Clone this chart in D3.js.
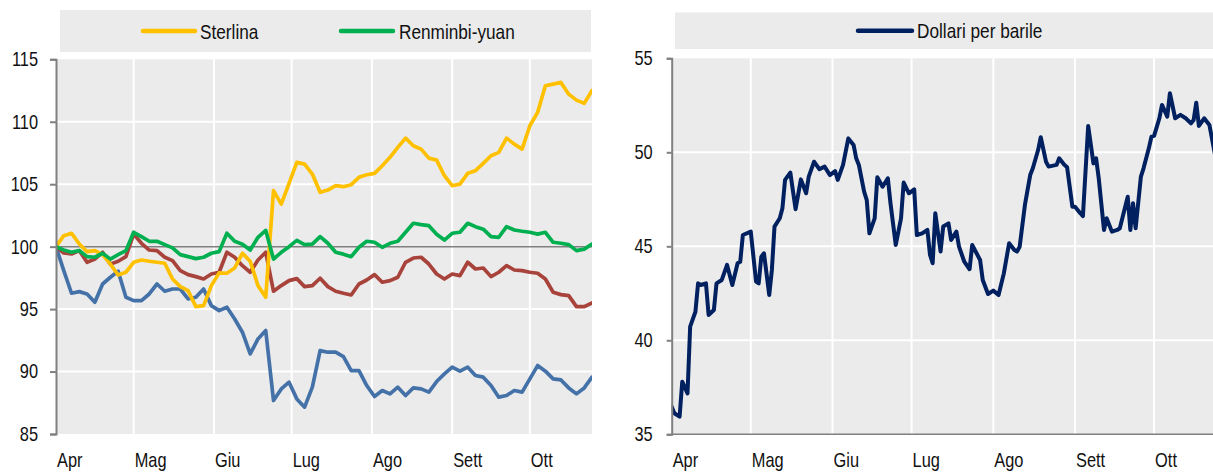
<!DOCTYPE html>
<html><head><meta charset="utf-8">
<script src="https://cdn.jsdelivr.net/npm/d3@7"></script>
<style>
body{margin:0;background:#fff}
svg{display:block}
text{font-family:"Liberation Sans",Arial,sans-serif;fill:#111}
</style>
</head><body>
<svg id="c" width="1213" height="473"></svg>
<script>
// ---------- DATA ----------
const monthLabels = ["Apr","Mag","Giu","Lug","Ago","Sett","Ott"];
const leftTicks = [85,90,95,100,105,110,115];
const rightTicks = [35,40,45,50,55];
const startDate = new Date(2016,3,1);
// left panel: readings every 3 days from 1 April (day offsets)
const leftDays = d3.range(0, 208, 3);
const sterlina = [100,100.88,101.07,100.21,99.6,99.68,99.36,98.6,97.73,97.95,
 98.75,98.93,98.83,98.75,98.67,97.41,96.8,96.48,95.2,95.28,
 96.88,97.9,97.87,98.29,99.47,98.83,96.88,95.95,104.48,103.41,
 105.07,106.75,106.61,105.81,104.35,104.53,104.88,104.8,104.96,105.55,
 105.76,105.87,106.48,107.15,107.95,108.69,108.08,107.81,107.09,106.93,
 105.68,104.88,105.01,105.87,106.08,106.67,107.28,107.55,108.69,108.21,
 107.81,109.68,110.75,112.88,113.01,113.15,112.21,111.73,111.47,112.5];
const renminbi = [100,99.73,99.55,99.68,99.2,99.15,99.47,99.0,99.36,99.68,
 101.15,100.8,100.43,100.43,100.16,99.9,99.36,99.2,99.04,99.15,
 99.47,99.6,101.07,100.43,100.2,99.73,100.75,101.3,99.0,99.55,
 100.0,100.5,100.16,100.2,100.8,100.27,99.55,99.4,99.2,99.95,
 100.43,100.35,99.95,100.27,100.43,101.15,101.87,101.76,101.68,101.0,
 100.53,101.07,101.15,101.87,101.6,101.4,100.8,100.75,101.6,101.33,
 101.23,101.15,101.0,101.15,100.35,100.27,100.16,99.68,99.8,100.2];
const dollaro = [100,99.49,99.41,99.68,98.75,99.0,99.55,98.6,98.83,99.2,
 101.0,100.27,99.73,99.68,99.15,98.88,98.08,97.76,97.6,97.41,
 97.81,97.95,99.55,99.15,98.48,97.95,98.93,99.55,96.43,96.88,
 97.28,97.44,96.8,96.88,97.47,96.8,96.43,96.27,96.13,97.01,
 97.33,97.76,97.15,97.28,97.55,98.75,99.09,99.15,98.61,97.81,
 97.41,97.81,97.68,98.75,98.21,98.29,97.6,97.95,98.48,98.13,
 98.08,97.95,97.87,97.41,96.35,96.16,96.08,95.2,95.2,95.49];
const yen = [100,98.08,96.27,96.4,96.21,95.55,97.01,97.55,98.03,95.95,
 95.68,95.68,96.21,97.01,96.43,96.61,96.61,95.81,95.95,96.61,
 95.28,94.88,95.15,94.21,93.15,91.41,92.61,93.28,87.68,88.61,
 89.15,87.81,87.15,88.75,91.68,91.55,91.55,91.2,90.08,90.08,
 88.88,88.0,88.48,88.21,88.75,88.08,88.69,88.61,88.35,89.2,
 89.81,90.35,90.03,90.35,89.68,89.55,88.88,87.95,88.08,88.48,
 88.35,89.41,90.48,90.03,89.41,89.33,88.69,88.21,88.69,89.55];
// right panel: oil price (day offsets from 1 April, dollars per barrel)
const oilDays = [0,1,3,4,6,7,9,10,11,13,14,16,17,19,21,23,25,26,27,30,
 32,33,34,35,37,38,39,41,42,43,45,47,49,51,52,54,56,58,60,62,
 63,65,67,69,70,71,73,74,75,77,78,80,82,83,85,87,88,90,92,93,
 95,97,98,99,100,102,103,105,106,108,109,111,113,114,117,118,120,122,124,126,
 128,130,131,132,134,136,137,139,140,142,143,146,147,149,150,152,153,155,156,158,
 160,161,162,164,165,167,169,170,173,174,175,176,178,179,181,182,183,185,186,188,
 189,191,193,195,197,198,199,200,202,204,206];
const oilValues = [36.47,36.12,35.94,37.8,37.18,40.73,41.52,43.03,42.94,43.03,41.35,41.61,43.03,43.21,44.01,42.94,44.1,44.18,45.6,45.78,
 43.12,43.03,44.45,44.63,42.41,43.74,46.05,46.49,47.02,48.53,48.92,46.97,48.56,47.82,48.71,49.5,49.1,49.24,48.79,49.0,
 48.53,49.33,50.74,50.39,49.68,49.33,47.91,47.46,45.69,46.49,48.67,48.17,48.62,47.29,45.07,46.49,48.39,47.82,48.03,45.6,
 45.69,45.87,44.54,44.1,46.76,44.72,46.05,46.22,45.34,45.78,44.98,44.18,43.78,45.07,44.27,43.21,42.46,42.64,42.41,43.56,
 45.16,44.8,44.72,44.98,47.2,48.79,49.15,50.12,50.8,49.5,49.24,49.33,49.68,49.33,49.2,47.11,47.11,46.76,46.61,51.4,
 49.41,49.68,48.62,45.87,46.49,45.78,45.87,45.96,47.64,45.87,47.29,45.96,48.71,49.15,50.21,50.83,50.87,51.81,52.52,51.9,
 53.14,51.81,51.99,51.81,51.54,51.72,52.64,51.4,51.81,51.45,49.95];

const leftSeries = [
  {name:"Yen", values:yen, color:"#4472A8"},
  {name:"Dollaro", values:dollaro, color:"#A8433B"},
  {name:"Sterlina", values:sterlina, color:"#FFC000"},
  {name:"Renminbi-yuan", values:renminbi, color:"#00B050"}
];
const leftLegend = [{name:"Sterlina",color:"#FFC000",x1:143,x2:195,tx:200},
                    {name:"Renminbi-yuan",color:"#00B050",x1:341,x2:393,tx:399}];
const rightLegend = [{name:"Dollari per barile",color:"#002060",x1:858,x2:912,tx:917}];

// ---------- DRAW ----------
const svg = d3.select("#c");
const BG = "#ebebeb", AX = "#808080", SX = 0.82;
const day = d => d3.timeDay.offset(startDate, d);

function label(g, x, y, txt, size, anchor){
  return g.append("text").attr("transform",`translate(${x},${y}) scale(${SX},1)`)
    .attr("text-anchor",anchor).attr("font-size",size).text(txt);
}

function panel(cfg){
  const g = svg.append("g");
  const x = d3.scaleTime().domain([day(0), day(cfg.endDay)]).range([cfg.x0, cfg.x1]);
  const y = d3.scaleLinear().domain([cfg.yMin, cfg.yMax]).range([cfg.yBottom, cfg.yTop]);
  const right = Math.min(cfg.x1, 1213);
  // legend box
  g.append("rect").attr("x",cfg.lx).attr("y",cfg.ly).attr("width",cfg.lw).attr("height",cfg.lh).attr("fill",BG);
  cfg.legend.forEach(l=>{
    g.append("line").attr("x1",l.x1).attr("x2",l.x2).attr("y1",cfg.ly+cfg.lh/2).attr("y2",cfg.ly+cfg.lh/2)
      .attr("stroke",l.color).attr("stroke-width",4.5).attr("stroke-linecap","round");
    label(g, l.tx, cfg.ly+cfg.lh/2+7.5, l.name, 21, "start");
  });
  // plot background
  g.append("rect").attr("x",cfg.x0).attr("y",y(cfg.yMax)).attr("width",right-cfg.x0)
    .attr("height",y(cfg.yMin)-y(cfg.yMax)).attr("fill",BG);
  const months = d3.timeMonth.range(day(0), day(cfg.endDay));
  // grid
  g.selectAll(".hg").data(cfg.ticks.filter(t=>t!==cfg.yMin && t!==cfg.yMax && t!==cfg.refLine))
    .join("line").attr("x1",cfg.x0).attr("x2",right).attr("y1",d=>y(d)).attr("y2",d=>y(d))
    .attr("stroke","#fff").attr("stroke-width",2);
  g.selectAll(".vg").data(months.slice(1)).join("line")
    .attr("x1",d=>x(d)).attr("x2",d=>x(d)).attr("y1",y(cfg.yMax)).attr("y2",y(cfg.yMin))
    .attr("stroke","#fff").attr("stroke-width",2);
  if(cfg.refLine!=null){
    g.append("line").attr("x1",cfg.x0).attr("x2",right).attr("y1",y(cfg.refLine)).attr("y2",y(cfg.refLine))
      .attr("stroke",AX).attr("stroke-width",1.5);
  }
  if(cfg.bottomAxis){
    g.append("line").attr("x1",cfg.x0).attr("x2",right).attr("y1",y(cfg.yMin)).attr("y2",y(cfg.yMin))
      .attr("stroke",AX).attr("stroke-width",1.5);
  }
  // series
  const clipId = "clip"+cfg.id;
  svg.append("clipPath").attr("id",clipId).append("rect")
    .attr("x",cfg.x0).attr("y",0).attr("width",right-cfg.x0).attr("height",473);
  const line = d3.line().x(d=>x(d[0])).y(d=>y(d[1])).curve(d3.curveLinear);
  cfg.series.forEach(s=>{
    g.append("path").attr("clip-path",`url(#${clipId})`)
      .datum(s.days.map((d,i)=>[day(d), s.values[i]]))
      .attr("d",line).attr("fill","none").attr("stroke",s.color)
      .attr("stroke-width",cfg.lineW).attr("stroke-linejoin","round").attr("stroke-linecap","round");
  });
  // y axis
  const ya = g.append("g").attr("transform",`translate(${cfg.x0},0)`)
    .call(d3.axisLeft(y).tickValues(cfg.ticks).tickSize(cfg.tickLen).tickPadding(cfg.pad).tickFormat(d3.format("d")));
  ya.select(".domain").attr("stroke",AX).attr("stroke-width",2);
  ya.selectAll(".tick line").attr("stroke",AX).attr("stroke-width",2);
  ya.selectAll(".tick text").attr("font-size",20).attr("fill","#111")
    .attr("font-family",'"Liberation Sans",Arial,sans-serif')
    .attr("x",-(cfg.tickLen+cfg.pad)/SX).attr("transform",`scale(${SX},1)`);
  // x labels
  months.forEach((d,i)=>label(g, x(d)+1, 467, monthLabels[i], 20, "start"));
}

panel({id:"L", x0:56, x1:592, endDay:207, yMin:85, yMax:115, yTop:59.3, yBottom:434,
  ticks:leftTicks, refLine:100, bottomAxis:false, tickLen:6, pad:12, lineW:3.7,
  lx:60, ly:10, lw:531, lh:42, legend:leftLegend,
  series:leftSeries.map(s=>({days:leftDays, values:s.values, color:s.color}))});

panel({id:"R", x0:671.7, x1:671.7+2.636*206, endDay:206, yMin:35, yMax:55, yTop:58.3, yBottom:434.3,
  ticks:rightTicks, refLine:null, bottomAxis:true, tickLen:5, pad:14, lineW:4,
  lx:675, ly:12.5, lw:540, lh:36.5, legend:rightLegend,
  series:[{days:oilDays, values:oilValues, color:"#002060"}]});
</script>
</body></html>
